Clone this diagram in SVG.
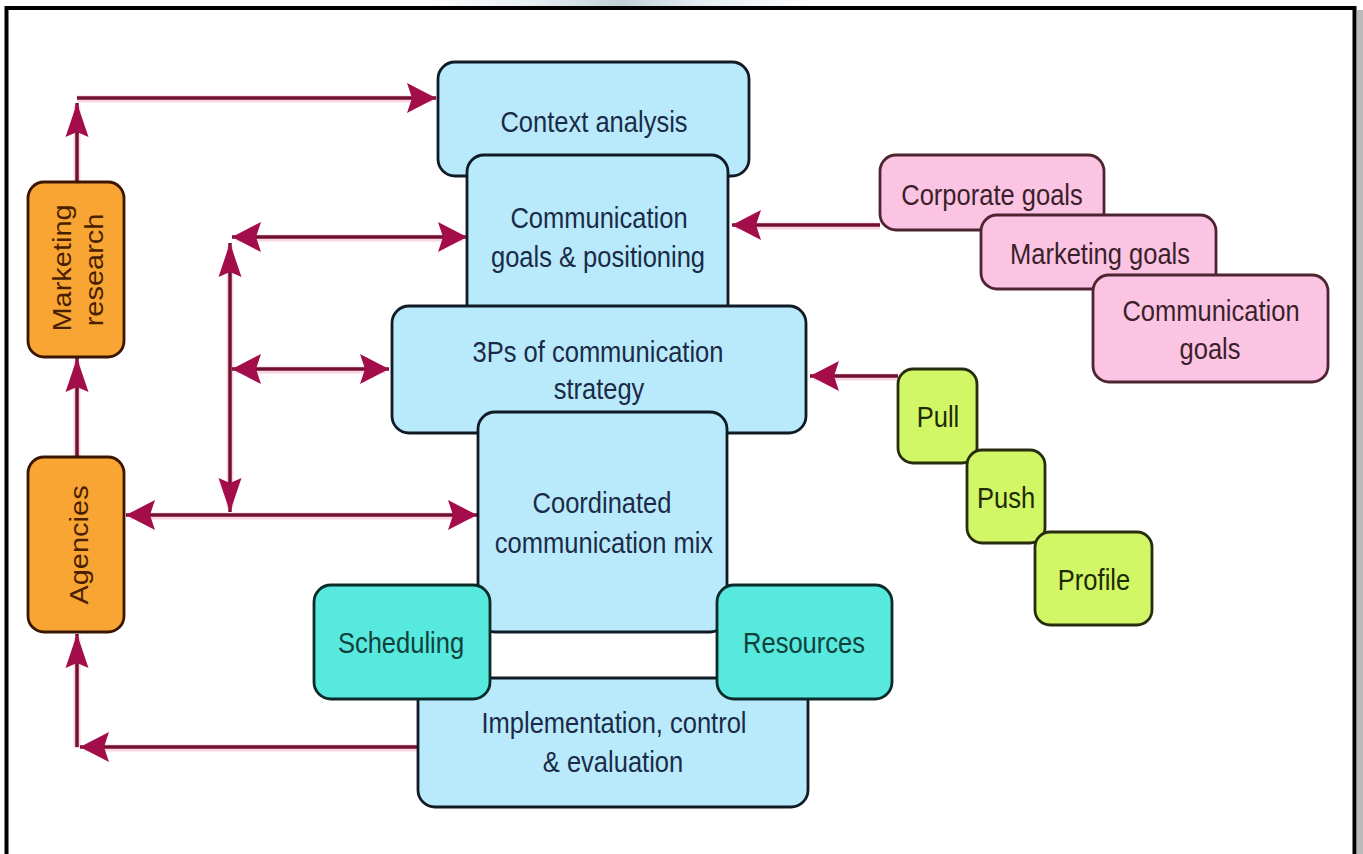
<svg xmlns="http://www.w3.org/2000/svg" width="1363" height="854" viewBox="0 0 1363 854">
  <style>
    .lbl { font-family: "Liberation Sans", Arial, sans-serif; font-size: 29px; text-anchor: middle; }
    .blue rect { fill: #b8eafc; stroke: #111b26; stroke-width: 2.8; }
    .blue text { fill: #1b2b47; }
    .orange rect { fill: #f9a534; stroke: #3a1600; stroke-width: 2.8; }
    .orange text { fill: #4a1f00; }
    .pink rect { fill: #fbc4e2; stroke: #4e2430; stroke-width: 2.8; }
    .pink text { fill: #3b1f2b; }
    .teal rect { fill: #57e9dd; stroke: #0b2b28; stroke-width: 2.8; }
    .teal text { fill: #0f403c; }
    .lime rect { fill: #d2f766; stroke: #272d0c; stroke-width: 2.8; }
    .lime text { fill: #1f2a05; }
    .conn path { fill: none; stroke: #72102f; stroke-width: 3.5; }
    .halo path { fill: none; stroke: #fbd5e3; stroke-width: 7; }
  </style>
  <defs>
    <linearGradient id="topGlow" x1="0" y1="0" x2="1" y2="0">
      <stop offset="0" stop-color="#ffffff"/>
      <stop offset="0.3" stop-color="#e4edf1"/>
      <stop offset="0.5" stop-color="#c0d0d6"/>
      <stop offset="0.7" stop-color="#e4edf1"/>
      <stop offset="1" stop-color="#ffffff"/>
    </linearGradient>
    <!-- arrowhead for horizontal runs -->
    <marker id="ah" markerUnits="userSpaceOnUse" orient="auto-start-reverse" refX="0" refY="0" markerWidth="1" markerHeight="1" overflow="visible">
      <path d="M0,0 L-29,-15 L-24,0 L-29,15 Z" fill="#a20d4a"/>
    </marker>
    <!-- arrowhead for vertical runs -->
    <marker id="av" markerUnits="userSpaceOnUse" orient="auto-start-reverse" refX="0" refY="0" markerWidth="1" markerHeight="1" overflow="visible">
      <path d="M0,0 L-34,-11.5 L-29,0 L-34,11.5 Z" fill="#a20d4a"/>
    </marker>
  </defs>

  <!-- page background and frame -->
  <rect x="0" y="0" width="1363" height="854" fill="#ffffff"/>
  <rect x="420" y="0" width="400" height="6" fill="url(#topGlow)"/>
  <rect x="1357" y="10" width="6" height="844" fill="#b9b9b9"/>
  <rect x="6.5" y="8" width="1348" height="870" fill="none" stroke="#000000" stroke-width="4"/>

  <!-- connectors -->
  <g id="connectors">
    <g class="halo">
      <path d="M77,182 V106"/>
      <path d="M77,99 H432"/>
      <path d="M77,457 V362"/>
      <path d="M418,748 H84"/>
      <path d="M77,748 V638"/>
      <path d="M230,247 V508"/>
      <path d="M236,238 H463"/>
      <path d="M236,370 H385"/>
      <path d="M130,516 H473"/>
      <path d="M880,226 H736"/>
      <path d="M898,377 H814"/>
    </g>
    <g class="conn">
      <path d="M77,182 V103" marker-end="url(#av)"/>
      <path d="M77,98 H436" marker-end="url(#ah)"/>
      <path d="M77,457 V358" marker-end="url(#av)"/>
      <path d="M418,747 H80" marker-end="url(#ah)"/>
      <path d="M77,747 V634" marker-end="url(#av)"/>
      <path d="M230,243 V512" marker-start="url(#av)" marker-end="url(#av)"/>
      <path d="M232,237 H467" marker-start="url(#ah)" marker-end="url(#ah)"/>
      <path d="M232,369 H389" marker-start="url(#ah)" marker-end="url(#ah)"/>
      <path d="M126,515 H477" marker-start="url(#ah)" marker-end="url(#ah)"/>
      <path d="M880,225 H732" marker-end="url(#ah)"/>
      <path d="M898,376 H810" marker-end="url(#ah)"/>
    </g>
  </g>

  <!-- left column -->
  <g id="marketing-research" class="orange">
    <rect x="28" y="182" width="96" height="175" rx="16"/>
    <text class="lbl" transform="translate(71,268) rotate(-90) scale(1,0.88)">Marketing</text>
    <text class="lbl" transform="translate(103,270) rotate(-90) scale(1,0.88)">research</text>
  </g>
  <g id="agencies" class="orange">
    <rect x="28" y="457" width="96" height="175" rx="16"/>
    <text class="lbl" transform="translate(88,545) rotate(-90) scale(1,0.88)">Agencies</text>
  </g>

  <!-- central stack -->
  <g id="context-analysis" class="blue">
    <rect x="438" y="62" width="311" height="114" rx="17"/>
    <text class="lbl" transform="translate(594,132) scale(0.88,1)">Context analysis</text>
  </g>
  <g id="communication-goals-positioning" class="blue">
    <rect x="467" y="155" width="261" height="170" rx="17"/>
    <text class="lbl" transform="translate(599,228) scale(0.88,1)">Communication</text>
    <text class="lbl" transform="translate(598,267) scale(0.88,1)">goals &amp; positioning</text>
  </g>
  <g id="three-ps" class="blue">
    <rect x="392" y="306" width="414" height="127" rx="17"/>
    <text class="lbl" transform="translate(598,362) scale(0.88,1)">3Ps of communication</text>
    <text class="lbl" transform="translate(599,399) scale(0.88,1)">strategy</text>
  </g>
  <g id="coordinated-mix" class="blue">
    <rect x="478" y="412" width="249" height="220" rx="17"/>
    <text class="lbl" transform="translate(602,513) scale(0.88,1)">Coordinated</text>
    <text class="lbl" transform="translate(604,553) scale(0.88,1)">communication mix</text>
  </g>
  <g id="implementation" class="blue">
    <rect x="418" y="678" width="390" height="129" rx="17"/>
    <text class="lbl" transform="translate(614,733) scale(0.88,1)">Implementation, control</text>
    <text class="lbl" transform="translate(613,772) scale(0.88,1)">&amp; evaluation</text>
  </g>
  <g id="scheduling" class="teal">
    <rect x="314" y="585" width="176" height="114" rx="17"/>
    <text class="lbl" transform="translate(401,653) scale(0.88,1)">Scheduling</text>
  </g>
  <g id="resources" class="teal">
    <rect x="717" y="585" width="175" height="114" rx="17"/>
    <text class="lbl" transform="translate(804,653) scale(0.88,1)">Resources</text>
  </g>

  <!-- goal hierarchy -->
  <g id="corporate-goals" class="pink">
    <rect x="880" y="155" width="224" height="75" rx="16"/>
    <text class="lbl" transform="translate(992,205) scale(0.88,1)">Corporate goals</text>
  </g>
  <g id="marketing-goals" class="pink">
    <rect x="981" y="215" width="235" height="74" rx="16"/>
    <text class="lbl" transform="translate(1100,264) scale(0.88,1)">Marketing goals</text>
  </g>
  <g id="communication-goals" class="pink">
    <rect x="1093" y="275" width="235" height="107" rx="16"/>
    <text class="lbl" transform="translate(1211,321) scale(0.88,1)">Communication</text>
    <text class="lbl" transform="translate(1210,359) scale(0.88,1)">goals</text>
  </g>

  <!-- 3Ps -->
  <g id="pull" class="lime">
    <rect x="898" y="369" width="79" height="94" rx="15"/>
    <text class="lbl" transform="translate(938,427) scale(0.88,1)">Pull</text>
  </g>
  <g id="push" class="lime">
    <rect x="967" y="450" width="78" height="93" rx="15"/>
    <text class="lbl" transform="translate(1006,508) scale(0.88,1)">Push</text>
  </g>
  <g id="profile" class="lime">
    <rect x="1035" y="532" width="117" height="93" rx="15"/>
    <text class="lbl" transform="translate(1094,590) scale(0.88,1)">Profile</text>
  </g>
</svg>
